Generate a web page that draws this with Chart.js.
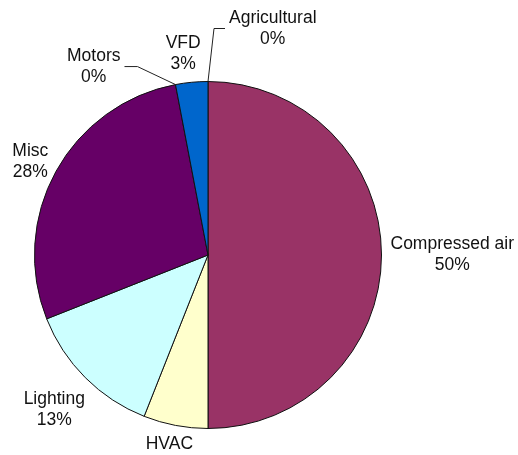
<!DOCTYPE html>
<html>
<head>
<meta charset="utf-8">
<script src="https://cdn.jsdelivr.net/npm/chart.js@4"></script>
<style>
html, body { margin: 0; padding: 0; background: #fff; }
#wrap { width: 518px; height: 455px; }
</style>
</head>
<body>
<div id="wrap"><canvas id="pie-canvas"></canvas></div>
<script>
const categories = ['Agricultural', 'Compressed air', 'HVAC', 'Lighting', 'Misc', 'Motors', 'VFD'];
const shares = [0, 50, 6, 13, 28, 0, 3];
const sliceColors = ['#9999ff', '#993366', '#ffffcc', '#ccffff', '#660066', '#ff8080', '#0066cc'];

// empty slices get a bent leader: [dx, dy] to the elbow, then a horizontal run
const leaders = {0: [6, -53, 11], 5: [-38, -18, -13]};
// small hand nudges for a few labels so they sit nicer
const nudges = {3: [-3, 11], 4: [-2, 5], 6: [-6, 1]};

function draw_labels(chart){
  const ctx = chart.ctx;
  const arcs = chart.getDatasetMeta(0).data;
  const lh = 21;
  ctx.save();
  ctx.font = '17.5px "Liberation Sans", Arial, sans-serif';
  ctx.fillStyle = '#111';
  ctx.textAlign = 'center';
  ctx.textBaseline = 'middle';
  arcs.forEach((arc, i) => {
    const p = arc.getProps(['x', 'y', 'startAngle', 'endAngle', 'outerRadius'], true);
    const mid = (p.startAngle + p.endAngle) / 2;
    const dx = Math.cos(mid), dy = Math.sin(mid);
    const lines = [categories[i], shares[i] + '%'];
    const w = Math.max(...lines.map(t => ctx.measureText(t).width));
    const h = lines.length * lh;
    let cx, cy;
    if(leaders[i]){
      const [ex, ey, run] = leaders[i];
      const px = p.x + dx * p.outerRadius, py = p.y + dy * p.outerRadius;
      const bx = px + ex, by = py + ey, tx = bx + run;
      ctx.strokeStyle = '#222';
      ctx.lineWidth = 1;
      ctx.beginPath();
      ctx.moveTo(px, py);
      ctx.lineTo(bx, by);
      ctx.lineTo(tx, by);
      ctx.stroke();
      cx = tx + Math.sign(run) * (w / 2 + 4);
      cy = by;
    } else {
      const r = p.outerRadius + 9;
      cx = p.x + dx * r + dx * w / 2;
      cy = p.y + dy * r + dy * h / 2;
    }
    if(nudges[i]){
      cx += nudges[i][0];
      cy += nudges[i][1];
    }
    lines.forEach((t, k) => ctx.fillText(t, cx, cy - h / 2 + lh / 2 + k * lh));
  });
  ctx.restore();
}

const ctx = document.getElementById('pie-canvas');
const myChart = new Chart(ctx, {
  type: 'pie',
  plugins: [{
    id: 'sliceLabels',
    afterDatasetsDraw: draw_labels
  }],
  data: {
    labels: categories,
    datasets: [{
      data: shares,
      backgroundColor: sliceColors,
      borderColor: '#111',
      borderWidth: 1,
      hoverOffset: 0,
      offset: 0
    }]
  },
  options: {
    animation: false,
    responsive: true,
    maintainAspectRatio: false,
    events: [],
    layout: {
      padding: {left: 34, right: 136, top: 81, bottom: 26}
    },
    plugins: {
      legend: false,
      tooltip: {enabled: false},
      title: {display: false}
    }
  }
});
</script>
</body>
</html>
